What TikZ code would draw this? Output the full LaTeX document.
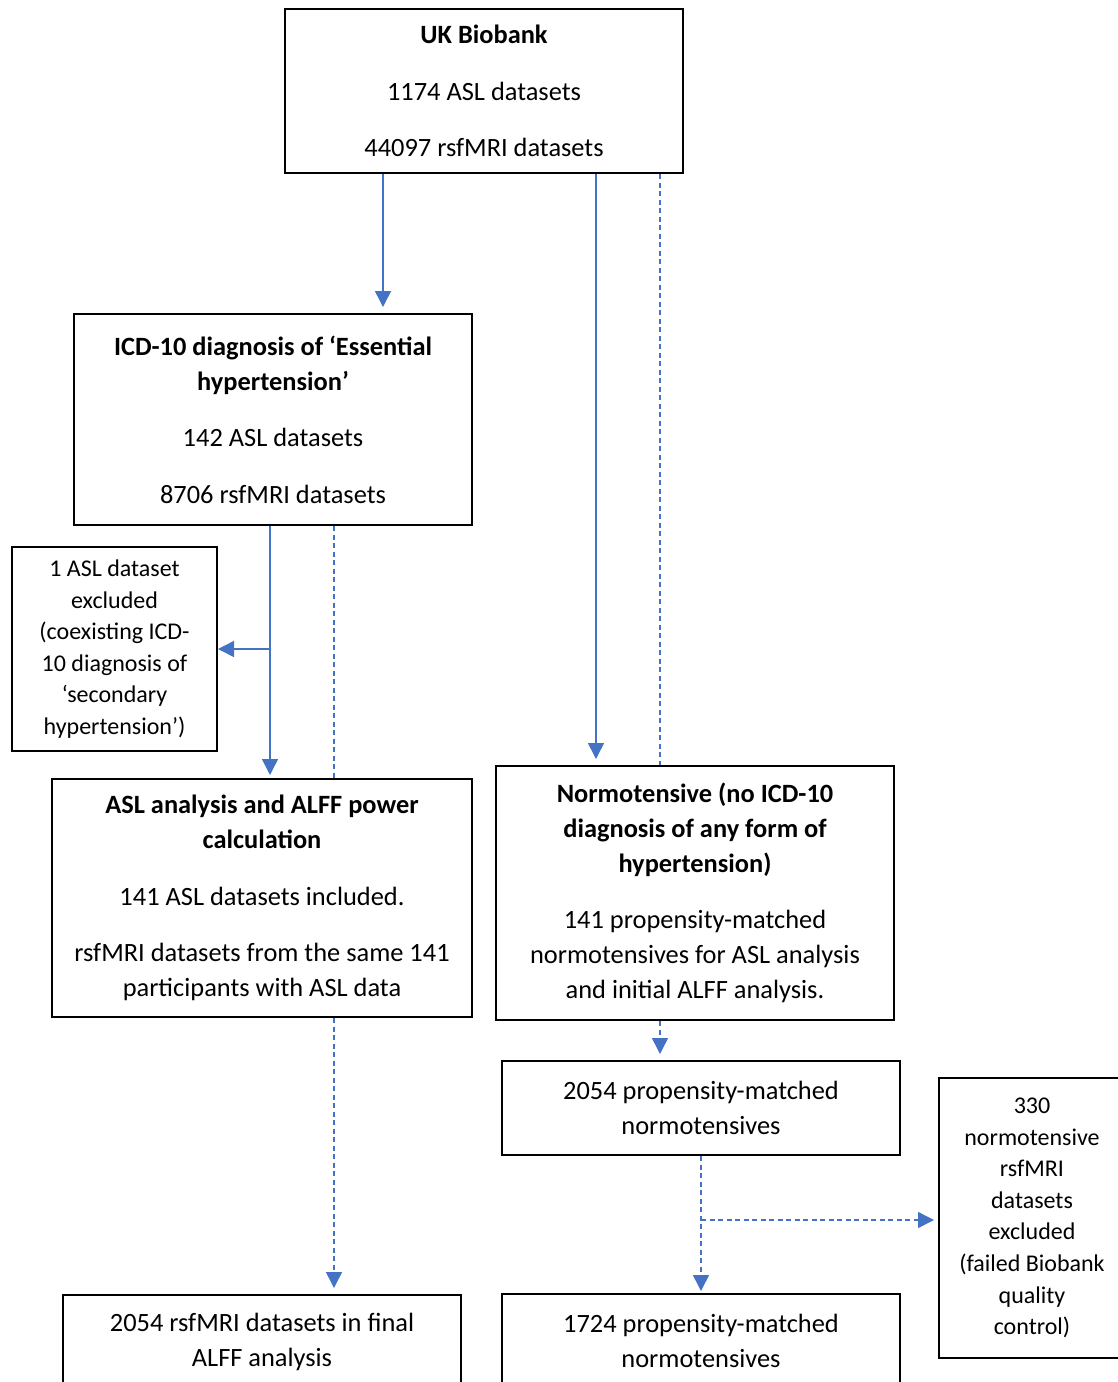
\documentclass[tikz,border=0pt]{standalone}
\usepackage{fontspec}
\setmainfont{Carlito}
\usetikzlibrary{arrows.meta,calc}
\definecolor{flow}{HTML}{4472C4}
\tikzset{
  box/.style={draw=black, line width=2pt, align=center, inner sep=0pt,
    font=\fontsize{26.4}{34.8}\selectfont},
  smallbox/.style={box, font=\fontsize{24}{31.6}\selectfont},
  link/.style={draw=flow, line width=1.5pt},
  tip/.style={-{Triangle[length=16pt,width=16pt]}},
  dashedlink/.style={link, dash pattern=on 5pt off 3.5pt},
}
\newcommand{\pgap}{\\[21.7pt]}
\begin{document}
\begin{tikzpicture}[x=1pt,y=-1pt]
\useasboundingbox (0,0) rectangle (1118,1382);
\clip (0,0) rectangle (1118,1382);

% boxes
\node[box, minimum width=398pt, minimum height=164pt] (uk) at (484,91)
  {\textbf{UK Biobank}\pgap 1174 ASL datasets\pgap 44097 rsfMRI datasets};
\node[box, minimum width=398pt, minimum height=211pt] (icd) at (273,419.5)
  {\textbf{ICD-10 diagnosis of ‘Essential}\\\textbf{hypertension’}\pgap
   142 ASL datasets\pgap 8706 rsfMRI datasets};
\node[smallbox, minimum width=205pt, minimum height=204pt] (excl) at (114.5,649)
  {1 ASL dataset\\excluded\\(coexisting ICD-\\10 diagnosis of\\‘secondary\\hypertension’)};
\node[box, minimum width=420pt, minimum height=238pt] (asl) at (262,898)
  {\textbf{ASL analysis and ALFF power}\\\textbf{calculation}\pgap
   141 ASL datasets included.\pgap
   rsfMRI datasets from the same 141\\participants with ASL data};
\node[box, minimum width=398pt, minimum height=254pt] (normo) at (695,893)
  {\textbf{Normotensive (no ICD-10}\\\textbf{diagnosis of any form of}\\\textbf{hypertension)}\pgap
   141 propensity-matched\\normotensives for ASL analysis\\and initial ALFF analysis.};
\node[box, minimum width=398pt, minimum height=94pt] (matched) at (701,1108)
  {2054 propensity-matched\\normotensives};
\node[smallbox, minimum width=186pt, minimum height=280pt] (qc) at (1032,1218)
  {330\\normotensive\\rsfMRI\\datasets\\excluded\\(failed Biobank\\quality\\control)};
\node[box, minimum width=398pt, minimum height=94pt] (final) at (262,1342)
  {2054 rsfMRI datasets in final\\ALFF analysis};
\node[box, minimum width=398pt, minimum height=94pt] (kept) at (701,1341)
  {1724 propensity-matched\\normotensives};

% connectors
\draw[link, tip, shorten >=6pt] (383,0 |- uk.south) -- (383,0 |- icd.north);
\draw[link, tip, shorten >=6pt] (596,0 |- uk.south) -- (596,0 |- normo.north);
\draw[dashedlink] (660,0 |- uk.south) -- (660,0 |- normo.north);

\draw[link, tip, shorten >=3pt] (270,0 |- icd.south) -- (270,0 |- asl.north);
\coordinate (split1) at (270,0 |- excl.east);
\draw[link, tip] (split1) -- (excl.east);
\draw[dashedlink] (334,0 |- icd.south) -- (334,0 |- asl.north);

\draw[dashedlink, tip, shorten >=6pt] (334,0 |- asl.south) -- (334,0 |- final.north);
\draw[dashedlink, tip, shorten >=6pt] (660,0 |- normo.south) -- (660,0 |- matched.north);
\draw[dashedlink, tip, shorten >=2pt] (matched.south) -- (kept.north);
\coordinate (split2) at (701,1220);
\draw[dashedlink, tip, shorten >=4pt] (split2) -- (split2 -| qc.west);
\end{tikzpicture}
\end{document}
